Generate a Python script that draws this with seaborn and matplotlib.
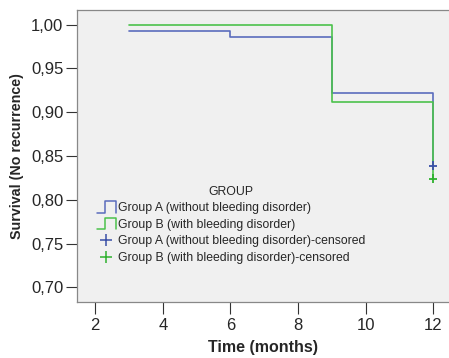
import matplotlib
matplotlib.use("Agg")
import matplotlib.pyplot as plt
import seaborn as sns
import pandas as pd
import numpy as np
from matplotlib.legend_handler import HandlerBase
from matplotlib.lines import Line2D
from matplotlib.ticker import FuncFormatter

# Data
times_a = [3, 6, 9, 12]
surv_a = [0.9925, 0.986, 0.9225, 0.839]
times_b = [3, 9, 12]
surv_b = [1.0, 0.912, 0.824]
cens_time_a = [12]
cens_surv_a = [0.839]
cens_time_b = [12]
cens_surv_b = [0.824]
labels = ["Group A (without bleeding disorder)", "Group B (with bleeding disorder)"]
cens_labels = [l + "-censored" for l in labels]
xticks = [2, 4, 6, 8, 10, 12]
yticks = [0.70, 0.75, 0.80, 0.85, 0.90, 0.95, 1.00]

col_a = "#5a6cbd"
col_b = "#4cc24c"
cens_col_a = "#3a50a8"
cens_col_b = "#2eb12e"

df = pd.concat([
    pd.DataFrame({"time": times_a, "surv": surv_a, "group": labels[0]}),
    pd.DataFrame({"time": times_b, "surv": surv_b, "group": labels[1]}),
])
dfc = pd.concat([
    pd.DataFrame({"time": cens_time_a, "surv": cens_surv_a, "group": cens_labels[0]}),
    pd.DataFrame({"time": cens_time_b, "surv": cens_surv_b, "group": cens_labels[1]}),
])

sns.set_style("ticks")
plt.rcParams["font.family"] = ["Liberation Sans", "DejaVu Sans"]

fig = plt.figure(figsize=(4.49, 3.58), dpi=100)
ax = fig.add_axes([76.5 / 449, 1 - 301.7 / 358, (450 - 76.5) / 449, (301.7 - 10) / 358])
ax.set_facecolor("#f0f0f0")

sns.lineplot(data=df, x="time", y="surv", hue="group", palette=[col_a, col_b],
             drawstyle="steps-post", linewidth=1.2, ax=ax, legend=False,
             estimator=None, sort=False)
sns.scatterplot(data=dfc, x="time", y="surv", hue="group", palette=[cens_col_a, cens_col_b],
                marker="+", s=40, linewidth=1.3, ax=ax, legend=False, zorder=5)

ax.set_xlim(1.445, 12.5)
ax.set_ylim(0.6835, 1.0168)
ax.set_xticks(xticks)
ax.set_yticks(yticks)
ax.yaxis.set_major_formatter(FuncFormatter(lambda v, p: f"{v:.2f}".replace(".", ",")))
ax.tick_params(axis="both", labelsize=12, width=0.8, color="#333333")
ax.tick_params(axis="y", length=8, pad=1.5)
ax.tick_params(axis="x", length=8.5, pad=3.5)
for s in ax.spines.values():
    s.set_color("#888888")
    s.set_linewidth(0.9)

ax.set_xlabel("Time (months)", fontsize=11.5, fontweight="bold", labelpad=5)
ax.set_ylabel("Survival (No recurrence)", fontsize=10.3, fontweight="bold", labelpad=5)


class StepHandler(HandlerBase):
    def create_artists(self, legend, orig_handle, xdescent, ydescent, width, height, fontsize, trans):
        x0 = -xdescent
        y0 = -ydescent - 1
        h = height + 2
        xs = [x0, x0 + 0.45 * width, x0 + 0.45 * width, x0 + width, x0 + width]
        ys = [y0, y0, y0 + h, y0 + h, y0]
        ln = Line2D(xs, ys, color=orig_handle.get_color(), lw=1.1, transform=trans)
        return [ln]


h_a = Line2D([], [], color=col_a)
h_b = Line2D([], [], color=col_b)
h_ca = Line2D([], [], color=cens_col_a, marker="+", linestyle="none", markersize=9, markeredgewidth=1.1)
h_cb = Line2D([], [], color=cens_col_b, marker="+", linestyle="none", markersize=9, markeredgewidth=1.1)

leg = ax.legend([h_a, h_b, h_ca, h_cb], labels + cens_labels, title="GROUP",
                handler_map={h_a: StepHandler(), h_b: StepHandler()},
                loc="upper left", bbox_to_anchor=(88 / 449, 1 - 177 / 358),
                bbox_transform=fig.transFigure, frameon=False, fontsize=8.8,
                title_fontsize=8.8, handlelength=1.55, handletextpad=0.2,
                labelspacing=0.38, borderpad=0.2)

fig.savefig("out.png", dpi=100)
